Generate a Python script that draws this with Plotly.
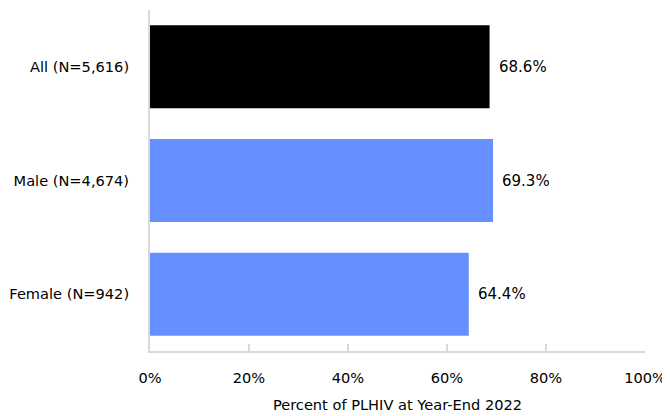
import plotly.graph_objects as go

categories = ["All (N=5,616)", "Male (N=4,674)", "Female (N=942)"]
values = [68.6, 69.3, 64.4]
bar_colors = ["#000000", "#668FFF", "#668FFF"]
x_ticks = [0, 20, 40, 60, 80, 100]
x_tick_labels = ["0%", "20%", "40%", "60%", "80%", "100%"]

fig = go.Figure()
fig.add_trace(go.Bar(
    y=categories,
    x=values,
    orientation="h",
    marker=dict(color=bar_colors, line=dict(width=0)),
    width=0.73,
))

# value labels just right of each bar
for cat, v in zip(categories, values):
    fig.add_annotation(
        x=v, y=cat, text=f"{v:.1f}%",
        showarrow=False, xanchor="left", xshift=7,
        font=dict(size=15, color="#000000"),
    )

# page body has an 8px margin, so the figure is sized a bit smaller
fig.update_layout(
    width=662, height=408,
    margin=dict(l=142, r=25, t=2, b=65),
    paper_bgcolor="white",
    plot_bgcolor="white",
    font=dict(family="DejaVu Sans", size=14.6, color="#000000"),
    showlegend=False,
)
fig.update_xaxes(
    range=[0, 100],
    tickvals=x_ticks,
    ticktext=x_tick_labels,
    tickfont=dict(size=14.6),
    showgrid=False,
    zeroline=False,
    showline=True,
    linecolor="#D9D9D9",
    linewidth=2,
    ticks="inside",
    ticklen=7,
    tickwidth=2,
    tickcolor="#D9D9D9",
    ticklabelstandoff=12,
    automargin=False,
    title=dict(text="Percent of PLHIV at Year-End 2022", font=dict(size=14.6), standoff=15),
)
fig.update_yaxes(
    autorange="reversed",
    tickfont=dict(size=14.6),
    showgrid=False,
    showline=True,
    linecolor="#D9D9D9",
    linewidth=2,
    ticks="",
    ticklabelstandoff=16,
    automargin=False,
)

fig.write_html("out.html")
